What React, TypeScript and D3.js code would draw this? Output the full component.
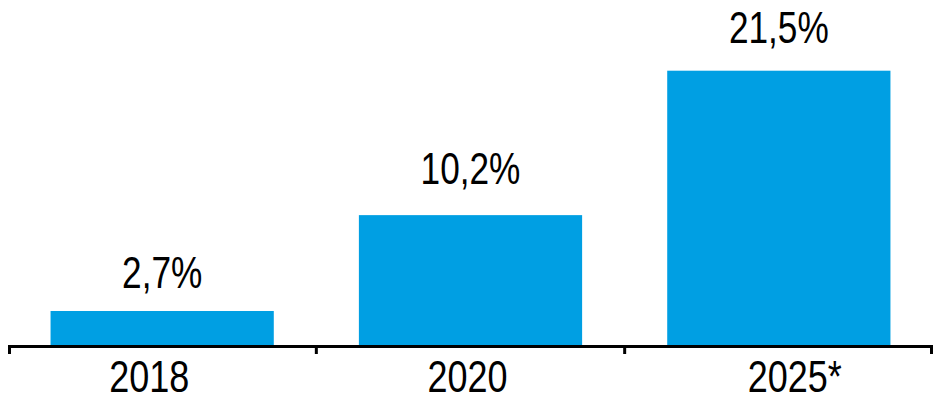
import React from "react";
import * as d3 from "d3";

const categories = ["2018", "2020", "2025*"];
const values = [2.7, 10.2, 21.5];
const valueLabels = ["2,7%", "10,2%", "21,5%"];
const labelShift = [-13, -3, 16];
const valueGap = [23, 31, 28];

const W = 942;
const H = 403;
const FONT = "'Liberation Sans Narrow', 'Arial Narrow', 'Liberation Sans', sans-serif";
const SX = 0.8;

export default function App() {
  const x = d3.scaleBand<string>().domain(categories).range([8, 933]).paddingInner(0.276).paddingOuter(0.138);
  const band = d3.scaleBand<string>().domain(categories).range([8, 933]).padding(0);
  const baseY = 345.5;
  const y = d3.scaleLinear().domain([0, 21.5]).range([baseY, 70.7]);
  const ticks = [8, ...categories.map((c) => (band(c) as number) + band.bandwidth())];
  return (
    <svg width={W} height={H} style={{ position: "absolute", left: 0, top: 0, background: "#fff" }}>
      {categories.map((c, i) => (
        <rect key={c} x={x(c)} y={y(values[i])} width={x.bandwidth()} height={baseY - y(values[i])} fill="#009FE3" />
      ))}
      <line x1={8} x2={933} y1={346.5} y2={346.5} stroke="#000" strokeWidth={3} />
      {ticks.map((t, i) => {
        const tx = i === 0 ? 9.5 : i === ticks.length - 1 ? 931.5 : t;
        return <line key={i} x1={tx} x2={tx} y1={345} y2={354} stroke="#000" strokeWidth={3} />;
      })}
      {categories.map((c, i) => (
        <text
          key={"v" + c}
          transform={`translate(${(x(c) as number) + x.bandwidth() / 2},${y(values[i]) - valueGap[i]}) scale(${SX},1)`}
          textAnchor="middle"
          fontFamily={FONT}
          fontSize={44}
          fill="#000"
        >
          {valueLabels[i]}
        </text>
      ))}
      {categories.map((c, i) => (
        <text
          key={"c" + c}
          transform={`translate(${(band(c) as number) + band.bandwidth() / 2 + labelShift[i]},391.5) scale(${SX},1)`}
          textAnchor="middle"
          fontFamily={FONT}
          fontSize={45}
          fill="#000"
        >
          {c}
        </text>
      ))}
    </svg>
  );
}
